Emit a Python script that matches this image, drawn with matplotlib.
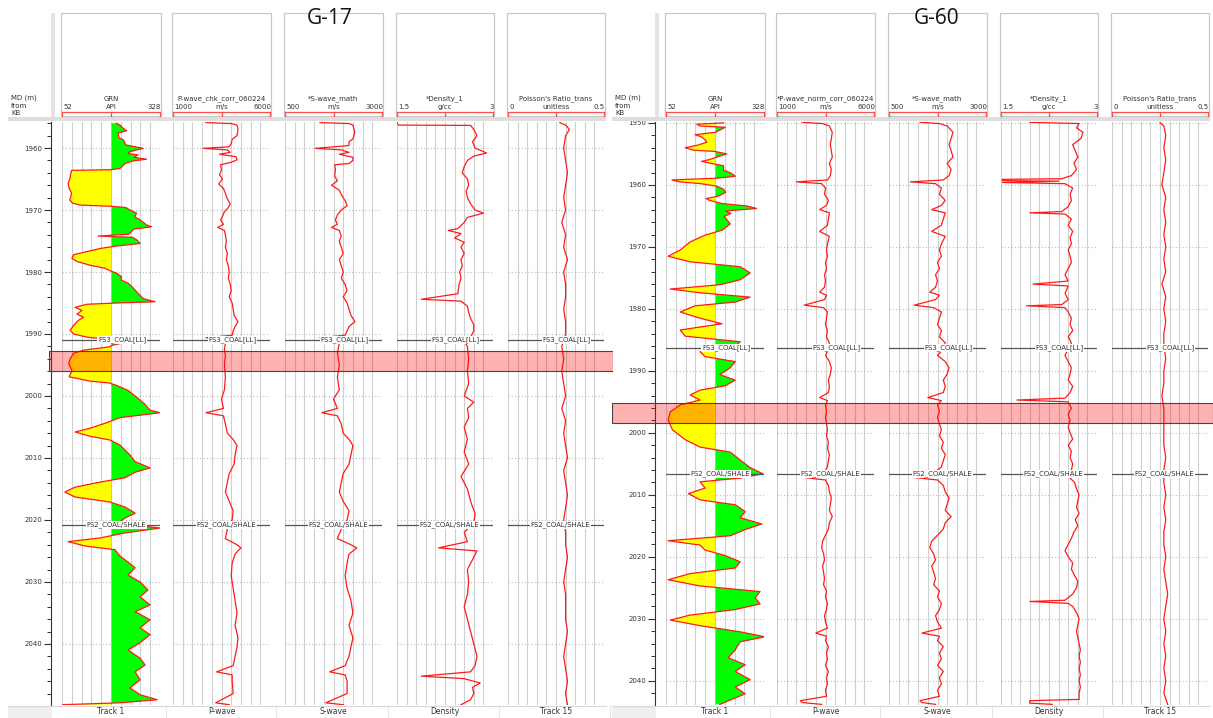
"""
Two-well log comparison, G-17 and G-60.
GR with shale/sand fill, Vp, Vs, density and Poisson's ratio, formation tops and a highlighted interval.
"""

import matplotlib
matplotlib.use('Agg')
import matplotlib.pyplot as plt
from matplotlib.patches import Rectangle
import numpy as np

W, H = 1213, 718

# ---------------- data (depth m, value) ----------------
G17_GR = [(1956.0, 205), (1956.3, 215), (1956.8, 224), (1957.2, 234), (1957.6, 210), (1958.3, 212),
          (1958.7, 225), (1959.5, 232), (1960.05, 280), (1960.6, 243), (1960.9, 238), (1961.1, 266),
          (1961.5, 255), (1961.8, 290), (1962.1, 250), (1962.5, 230), (1963.3, 215), (1963.5, 190),
          (1963.6, 79), (1964.3, 76), (1965.0, 74), (1965.7, 69), (1966.5, 72), (1967.3, 79),
          (1968.0, 76), (1968.4, 74), (1968.9, 82), (1969.2, 103), (1969.4, 190), (1969.6, 232),
          (1970.0, 243), (1970.5, 262), (1971.1, 257), (1971.6, 272), (1972.4, 290), (1972.7, 304),
          (1973.1, 253), (1973.5, 248), (1973.9, 240), (1974.2, 154), (1974.4, 250), (1974.8, 262),
          (1975.4, 272), (1975.8, 206), (1976.2, 160), (1976.7, 122), (1977.2, 85), (1977.8, 80),
          (1978.3, 94), (1978.9, 131), (1979.4, 173), (1979.8, 188), (1980.2, 206), (1980.8, 220),
          (1981.3, 218), (1981.8, 238), (1982.6, 253), (1983.5, 267), (1984.3, 281), (1984.8, 314),
          (1985.0, 206), (1985.2, 122), (1985.7, 89), (1986.2, 108), (1986.8, 94), (1987.3, 113),
          (1987.8, 98), (1988.6, 85), (1989.4, 75), (1990.0, 85), (1990.5, 122), (1990.7, 154),
          (1991.0, 165), (1991.3, 206), (1991.5, 220), (1991.8, 195), (1992.1, 183), (1992.6, 113),
          (1993.1, 85), (1994.0, 75), (1994.8, 71), (1995.9, 80), (1996.9, 72), (1997.6, 131),
          (1997.9, 185), (1998.3, 206), (1999.1, 238), (2000.2, 262), (2001.3, 285), (2002.3, 300),
          (2002.7, 328), (2003.5, 215), (2004.4, 173), (2005.2, 131), (2005.8, 89), (2006.5, 131),
          (2007.1, 187), (2007.9, 215), (2008.7, 229), (2009.5, 243), (2010.6, 258), (2011.6, 300),
          (2012.3, 258), (2013.2, 229), (2013.9, 159), (2014.7, 89), (2015.5, 60), (2016.3, 89),
          (2017.1, 187), (2017.9, 229), (2018.9, 258), (2019.7, 229), (2020.5, 210), (2021.3, 328),
          (2022.1, 229), (2022.9, 159), (2023.5, 69), (2024.2, 117), (2024.8, 201), (2025.8, 215),
          (2026.8, 238), (2027.7, 258), (2028.9, 238), (2030.0, 272), (2031.3, 294), (2032.4, 272),
          (2033.7, 300), (2034.8, 258), (2036.1, 300), (2037.4, 272), (2038.5, 300), (2039.8, 272),
          (2041.0, 238), (2042.3, 272), (2043.4, 286), (2044.5, 258), (2045.8, 272), (2047.1, 243),
          (2048.2, 272), (2049.0, 320), (2049.5, 215), (2049.8, 52)]

G17_VP = [(1955.9, 2700), (1956.05, 4000), (1956.3, 4300), (1957.0, 4350), (1958.0, 4300), (1958.6, 4050),
          (1959.3, 4000), (1959.8, 3900), (1960.05, 2550), (1960.3, 3800), (1960.7, 3950), (1961.0, 3400),
          (1961.4, 4250), (1961.9, 4300), (1962.3, 4000), (1962.7, 3450), (1963.5, 3500), (1964.3, 3400),
          (1965.0, 3550), (1965.8, 3350), (1966.5, 3600), (1967.3, 3700), (1968.2, 3800), (1969.0, 3950),
          (1969.6, 3850), (1970.3, 3650), (1971.0, 3550), (1971.6, 3450), (1972.3, 3600), (1972.8, 3300),
          (1973.3, 3650), (1974.0, 3700), (1975.0, 3750), (1976.0, 3700), (1977.0, 3800), (1978.0, 3750),
          (1979.0, 3850), (1980.0, 3900), (1981.0, 3850), (1982.0, 3950), (1983.0, 4000), (1984.0, 3900),
          (1985.0, 4050), (1986.0, 4100), (1987.0, 4150), (1988.0, 4350), (1988.8, 4200), (1989.5, 4100),
          (1990.2, 4050), (1990.6, 2700), (1990.9, 3800), (1991.5, 3700), (1992.5, 3650), (1993.5, 3700),
          (1995.0, 3650), (1997.0, 3700), (1999.0, 3650), (2000.5, 3500), (2002.0, 3600), (2002.7, 2700),
          (2003.2, 3600), (2004.5, 3700), (2006.0, 3800), (2007.0, 4100), (2008.0, 4300), (2009.5, 4200),
          (2011.0, 4150), (2012.5, 3900), (2014.0, 3800), (2015.5, 3700), (2017.0, 3900), (2018.5, 4100),
          (2020.0, 4050), (2021.5, 3800), (2023.0, 3700), (2024.0, 4300), (2024.5, 4500), (2025.5, 4200),
          (2027.0, 4050), (2029.0, 4000), (2031.0, 4100), (2033.0, 4200), (2035.0, 4300), (2037.0, 4200),
          (2039.0, 4350), (2040.5, 4300), (2042.0, 4200), (2043.5, 4100), (2044.5, 3250), (2045.0, 4050),
          (2046.0, 4050), (2048.0, 4100), (2049.5, 3200), (2049.8, 3900)]

G17_VS = [(1955.9, 1400), (1956.05, 2150), (1956.3, 2250), (1957.5, 2300), (1958.5, 2250), (1959.0, 2150),
          (1959.6, 2150), (1960.05, 1280), (1960.3, 1950), (1960.7, 2150), (1961.0, 1900), (1961.5, 2250),
          (1962.0, 2250), (1962.5, 2150), (1962.7, 1780), (1963.5, 1800), (1964.5, 1780), (1965.3, 1850),
          (1966.0, 1700), (1966.8, 1900), (1967.5, 1950), (1968.5, 2050), (1969.3, 2100), (1970.0, 1950),
          (1970.8, 1850), (1971.6, 1800), (1972.3, 1850), (1972.8, 1700), (1973.3, 1900), (1974.2, 1950),
          (1975.0, 1900), (1976.0, 1950), (1977.0, 2000), (1978.0, 1900), (1979.0, 1950), (1980.0, 2000),
          (1981.0, 1950), (1982.0, 2050), (1983.0, 2100), (1984.0, 2000), (1985.0, 2100), (1986.0, 2150),
          (1987.0, 2200), (1988.0, 2300), (1988.8, 2150), (1989.5, 2100), (1990.2, 2050), (1990.6, 1400),
          (1990.9, 1950), (1991.5, 1900), (1993.0, 1850), (1995.0, 1900), (1997.0, 1850), (1999.0, 1900),
          (2000.5, 1750), (2002.0, 1850), (2002.7, 1450), (2003.2, 1850), (2004.5, 1950), (2006.0, 2000),
          (2007.0, 2150), (2008.0, 2250), (2009.5, 2200), (2011.0, 2150), (2012.5, 2000), (2014.0, 1950),
          (2015.5, 1900), (2017.0, 2000), (2018.5, 2150), (2020.0, 2100), (2021.5, 1950), (2023.0, 1850),
          (2024.0, 2200), (2024.5, 2350), (2025.5, 2150), (2027.0, 2100), (2029.0, 2050), (2031.0, 2100),
          (2033.0, 2200), (2035.0, 2250), (2037.0, 2150), (2039.0, 2250), (2040.5, 2200), (2042.0, 2150),
          (2043.5, 2050), (2044.5, 1650), (2045.0, 2050), (2046.0, 2100), (2048.0, 2100), (2049.5, 1550),
          (2049.8, 2000)]

G17_RHOB = [(1955.9, 1.50), (1956.3, 1.52), (1956.35, 2.65), (1957.0, 2.70), (1958.0, 2.75), (1959.0, 2.68),
            (1960.0, 2.72), (1960.8, 2.90), (1961.3, 2.70), (1962.0, 2.60), (1963.0, 2.55), (1964.0, 2.52),
            (1965.0, 2.60), (1966.0, 2.62), (1967.0, 2.58), (1968.0, 2.60), (1969.0, 2.65), (1970.0, 2.72),
            (1970.5, 2.85), (1971.2, 2.60), (1972.0, 2.55), (1973.0, 2.45), (1973.3, 2.30), (1973.8, 2.50),
            (1974.5, 2.40), (1975.2, 2.55), (1976.0, 2.50), (1977.0, 2.55), (1978.0, 2.50), (1979.0, 2.52),
            (1980.0, 2.48), (1981.0, 2.50), (1982.0, 2.47), (1983.5, 2.45), (1984.4, 1.88), (1984.7, 2.50),
            (1985.5, 2.60), (1986.5, 2.62), (1987.5, 2.65), (1988.5, 2.70), (1989.5, 2.70), (1990.5, 2.65),
            (1990.8, 2.15), (1991.2, 2.55), (1992.0, 2.60), (1994.0, 2.62), (1996.0, 2.60), (1998.0, 2.62),
            (2000.0, 2.55), (2001.0, 2.70), (2002.0, 2.60), (2003.5, 2.62), (2005.0, 2.55), (2007.0, 2.60),
            (2009.0, 2.55), (2011.0, 2.62), (2013.0, 2.50), (2015.0, 2.60), (2017.0, 2.65), (2019.0, 2.72),
            (2020.5, 2.70), (2022.0, 2.55), (2023.5, 2.60), (2024.5, 2.15), (2025.0, 2.75), (2026.0, 2.70),
            (2028.0, 2.60), (2030.0, 2.62), (2032.0, 2.60), (2034.0, 2.55), (2036.0, 2.60), (2038.0, 2.65),
            (2040.0, 2.70), (2042.0, 2.75), (2043.5, 2.72), (2044.5, 2.65), (2045.2, 1.88), (2045.6, 2.55),
            (2046.3, 2.80), (2047.0, 2.68), (2048.0, 2.70), (2049.0, 2.65), (2049.8, 2.50)]

G17_PR = [(1955.9, 0.27), (1956.3, 0.30), (1957.0, 0.32), (1958.0, 0.30), (1960.0, 0.29), (1962.0, 0.30),
          (1964.0, 0.31), (1966.0, 0.30), (1968.0, 0.29), (1970.0, 0.30), (1972.0, 0.28), (1974.0, 0.30),
          (1976.0, 0.29), (1978.0, 0.31), (1980.0, 0.29), (1982.0, 0.30), (1984.0, 0.30), (1986.0, 0.29),
          (1988.0, 0.30), (1990.0, 0.30), (1992.0, 0.28), (1994.0, 0.29), (1996.0, 0.28), (1998.0, 0.29),
          (2000.0, 0.30), (2002.0, 0.28), (2004.0, 0.30), (2006.0, 0.29), (2008.0, 0.30), (2010.0, 0.31),
          (2012.0, 0.29), (2014.0, 0.30), (2016.0, 0.31), (2018.0, 0.30), (2020.0, 0.29), (2022.0, 0.30),
          (2024.0, 0.30), (2026.0, 0.31), (2028.0, 0.30), (2030.0, 0.29), (2032.0, 0.30), (2034.0, 0.30),
          (2036.0, 0.30), (2038.0, 0.31), (2040.0, 0.30), (2042.0, 0.29), (2044.0, 0.30), (2046.0, 0.31),
          (2048.0, 0.30), (2049.8, 0.31)]

G60_GR = [(1950.0, 214), (1950.2, 139), (1950.5, 148), (1950.7, 219), (1951.1, 205), (1951.5, 192),
          (1951.9, 134), (1952.2, 150), (1952.6, 160), (1953.1, 167), (1953.6, 140), (1954.0, 106),
          (1954.4, 130), (1954.6, 190), (1955.0, 223), (1955.4, 200), (1955.9, 175), (1956.2, 152),
          (1956.6, 185), (1956.9, 214), (1957.6, 214), (1958.1, 235), (1958.6, 247), (1958.9, 200),
          (1959.2, 69), (1959.5, 90), (1959.8, 150), (1960.2, 195), (1960.7, 214), (1961.2, 220),
          (1961.8, 200), (1962.2, 165), (1962.5, 175), (1963.0, 210), (1963.4, 280), (1963.8, 307),
          (1964.2, 220), (1964.6, 235), (1965.1, 215), (1965.3, 219), (1966.3, 233), (1967.3, 210),
          (1968.1, 162), (1969.2, 120), (1970.5, 92), (1971.5, 58), (1972.4, 120), (1973.2, 261),
          (1974.2, 289), (1975.3, 261), (1976.1, 204), (1976.8, 64), (1977.4, 148), (1978.1, 289),
          (1978.9, 247), (1979.5, 134), (1980.5, 92), (1981.5, 148), (1982.4, 210), (1983.4, 92),
          (1984.4, 106), (1985.3, 261), (1986.1, 247), (1986.9, 148), (1987.7, 162), (1988.5, 247),
          (1989.5, 233), (1990.6, 204), (1991.5, 247), (1992.4, 219), (1993.1, 148), (1993.9, 120),
          (1994.7, 148), (1995.5, 92), (1996.6, 64), (1997.9, 58), (1999.5, 70), (2001.1, 106),
          (2002.3, 148), (2003.1, 233), (2004.4, 261), (2005.6, 289), (2006.6, 325), (2007.3, 261),
          (2007.9, 148), (2008.9, 162), (2009.8, 115), (2010.8, 148), (2011.6, 247), (2012.7, 275),
          (2013.7, 261), (2014.7, 322), (2015.6, 275), (2016.6, 233), (2017.4, 58), (2018.1, 148),
          (2018.9, 162), (2019.8, 219), (2020.8, 261), (2021.8, 247), (2022.7, 120), (2023.7, 58),
          (2024.7, 148), (2025.6, 317), (2026.6, 303), (2027.6, 317), (2028.5, 247), (2029.4, 120),
          (2030.2, 64), (2031.1, 148), (2032.1, 261), (2032.9, 331), (2033.7, 261), (2035.0, 247),
          (2036.3, 227), (2037.4, 275), (2038.5, 247), (2039.8, 289), (2041.0, 247), (2042.1, 275),
          (2043.1, 233), (2043.8, 204)]

G60_VP = [(1949.9, 2300), (1950.1, 3350), (1950.5, 3700), (1951.5, 3850), (1952.5, 3800), (1953.5, 3750),
          (1954.5, 3800), (1955.5, 3850), (1956.5, 3700), (1957.5, 3800), (1958.5, 3750), (1959.2, 3600),
          (1959.5, 2000), (1959.8, 3300), (1960.5, 3500), (1961.5, 3450), (1962.5, 3650), (1963.3, 3550),
          (1964.0, 3200), (1964.5, 3700), (1965.5, 3650), (1966.5, 3600), (1967.5, 3200), (1968.3, 3700),
          (1969.5, 3600), (1970.5, 3550), (1971.5, 3600), (1972.5, 3500), (1973.5, 3550), (1974.5, 3450),
          (1975.5, 3500), (1976.5, 3450), (1977.3, 3200), (1977.8, 3550), (1978.5, 3450), (1979.4, 2400),
          (1979.8, 3400), (1980.5, 3600), (1981.5, 3550), (1982.5, 3500), (1983.5, 3600), (1984.5, 3550),
          (1985.5, 3700), (1986.5, 3650), (1987.5, 3500), (1988.5, 3700), (1989.5, 3800), (1990.5, 3750),
          (1991.5, 3650), (1992.5, 3700), (1993.5, 3650), (1994.3, 3200), (1994.8, 3600), (1995.5, 3500),
          (1996.5, 3550), (1997.5, 3500), (1998.5, 3550), (1999.5, 3600), (2000.5, 3550), (2001.5, 3650),
          (2002.5, 3600), (2003.5, 3700), (2004.5, 3650), (2005.5, 3600), (2006.5, 3400), (2007.2, 2400),
          (2007.6, 3500), (2008.5, 3650), (2009.5, 3700), (2010.5, 3800), (2011.5, 3750), (2012.5, 3700),
          (2013.5, 3850), (2014.5, 3700), (2015.5, 3650), (2016.5, 3500), (2017.5, 3350), (2018.5, 3300),
          (2019.5, 3400), (2020.5, 3450), (2021.5, 3350), (2022.5, 3400), (2023.5, 3450), (2024.5, 3400),
          (2025.5, 3550), (2026.5, 3500), (2027.5, 3600), (2028.5, 3550), (2029.5, 3450), (2030.5, 3500),
          (2031.5, 3600), (2032.3, 3000), (2032.8, 3550), (2033.5, 3500), (2034.5, 3650), (2035.5, 3550),
          (2036.5, 3600), (2037.5, 3500), (2038.5, 3650), (2039.5, 3550), (2040.5, 3600), (2041.5, 3500),
          (2042.5, 3550), (2043.2, 2200), (2043.5, 2300), (2043.8, 3300)]

G60_VS = [(1949.9, 1300), (1950.1, 1800), (1950.5, 2000), (1951.5, 2150), (1952.5, 2100), (1953.5, 2050),
          (1954.5, 2100), (1955.5, 2150), (1956.5, 2000), (1957.5, 2100), (1958.5, 2050), (1959.2, 1900),
          (1959.5, 1050), (1959.8, 1700), (1960.5, 1850), (1961.5, 1800), (1962.5, 1950), (1963.3, 1850),
          (1964.0, 1600), (1964.5, 1950), (1965.5, 1900), (1966.5, 1850), (1967.5, 1600), (1968.3, 1950),
          (1969.5, 1850), (1970.5, 1800), (1971.5, 1850), (1972.5, 1750), (1973.5, 1800), (1974.5, 1700),
          (1975.5, 1750), (1976.5, 1700), (1977.3, 1550), (1977.8, 1800), (1978.5, 1700), (1979.4, 1150),
          (1979.8, 1650), (1980.5, 1850), (1981.5, 1800), (1982.5, 1750), (1983.5, 1850), (1984.5, 1800),
          (1985.5, 1950), (1986.5, 1900), (1987.5, 1750), (1988.5, 1950), (1989.5, 2050), (1990.5, 2000),
          (1991.5, 1900), (1992.5, 1950), (1993.5, 1900), (1994.3, 1500), (1994.8, 1850), (1995.5, 1750),
          (1996.5, 1800), (1997.5, 1750), (1998.5, 1800), (1999.5, 1850), (2000.5, 1800), (2001.5, 1900),
          (2002.5, 1850), (2003.5, 1950), (2004.5, 1900), (2005.5, 1850), (2006.5, 1650), (2007.2, 1150),
          (2007.6, 1750), (2008.5, 1900), (2009.5, 1950), (2010.5, 2050), (2011.5, 2000), (2012.5, 1950),
          (2013.5, 2100), (2014.5, 1950), (2015.5, 1900), (2016.5, 1750), (2017.5, 1600), (2018.5, 1550),
          (2019.5, 1650), (2020.5, 1700), (2021.5, 1600), (2022.5, 1650), (2023.5, 1700), (2024.5, 1650),
          (2025.5, 1800), (2026.5, 1750), (2027.5, 1850), (2028.5, 1800), (2029.5, 1700), (2030.5, 1750),
          (2031.5, 1850), (2032.3, 1350), (2032.8, 1800), (2033.5, 1750), (2034.5, 1900), (2035.5, 1800),
          (2036.5, 1850), (2037.5, 1750), (2038.5, 1900), (2039.5, 1800), (2040.5, 1850), (2041.5, 1750),
          (2042.5, 1800), (2043.2, 1300), (2043.5, 1350), (2043.8, 1700)]

G60_RHOB = [(1949.9, 1.95), (1950.1, 2.72), (1950.8, 2.68), (1951.5, 2.78), (1952.5, 2.75), (1953.5, 2.62),
            (1954.5, 2.66), (1955.5, 2.70), (1956.5, 2.64), (1957.5, 2.68), (1958.5, 2.60), (1959.0, 2.45),
            (1959.1, 1.52), (1959.3, 1.52), (1959.4, 2.40), (1959.6, 1.52), (1959.8, 2.50), (1960.5, 2.62),
            (1961.5, 2.58), (1962.5, 2.60), (1963.5, 2.55), (1964.3, 2.45), (1964.5, 1.95), (1964.7, 2.50),
            (1965.5, 2.60), (1966.5, 2.55), (1967.5, 2.62), (1968.5, 2.58), (1969.5, 2.60), (1970.5, 2.55),
            (1971.5, 2.58), (1972.5, 2.60), (1973.5, 2.55), (1974.5, 2.50), (1975.5, 2.55), (1976.0, 2.00),
            (1976.3, 2.55), (1977.5, 2.50), (1978.5, 2.55), (1979.3, 2.45), (1979.5, 1.90), (1979.8, 2.50),
            (1980.5, 2.55), (1981.5, 2.60), (1982.5, 2.58), (1983.5, 2.62), (1984.5, 2.55), (1985.5, 2.60),
            (1986.5, 2.55), (1987.5, 2.50), (1988.5, 2.55), (1989.5, 2.60), (1990.5, 2.58), (1991.5, 2.55),
            (1992.5, 2.62), (1993.5, 2.58), (1994.4, 2.50), (1994.7, 1.75), (1995.0, 2.55), (1996.0, 2.60),
            (1997.0, 2.55), (1998.0, 2.58), (1999.0, 2.55), (2000.0, 2.58), (2001.0, 2.62), (2002.0, 2.55),
            (2003.0, 2.60), (2004.0, 2.58), (2005.0, 2.62), (2006.0, 2.60), (2007.0, 2.55), (2008.0, 2.65),
            (2009.0, 2.68), (2010.0, 2.72), (2011.0, 2.70), (2012.0, 2.68), (2013.0, 2.72), (2014.0, 2.66),
            (2015.0, 2.70), (2016.0, 2.64), (2017.0, 2.60), (2018.0, 2.55), (2019.0, 2.50), (2020.0, 2.55),
            (2021.0, 2.62), (2022.0, 2.60), (2023.0, 2.65), (2024.0, 2.70), (2025.0, 2.68), (2026.0, 2.62),
            (2027.0, 2.50), (2027.2, 1.95), (2027.5, 2.55), (2028.0, 2.62), (2029.0, 2.68), (2030.0, 2.72),
            (2031.0, 2.70), (2032.0, 2.68), (2033.0, 2.70), (2034.0, 2.72), (2035.0, 2.74), (2036.0, 2.72),
            (2037.0, 2.74), (2038.0, 2.72), (2039.0, 2.74), (2040.0, 2.72), (2041.0, 2.74), (2042.0, 2.72),
            (2043.0, 2.72), (2043.2, 1.95), (2043.6, 1.95), (2043.8, 2.30)]

G60_PR = [(1949.9, 0.25), (1950.5, 0.27), (1952.0, 0.28), (1954.0, 0.27), (1956.0, 0.28), (1958.0, 0.27),
          (1960.0, 0.26), (1962.0, 0.28), (1964.0, 0.27), (1966.0, 0.28), (1968.0, 0.27), (1970.0, 0.28),
          (1972.0, 0.27), (1974.0, 0.28), (1976.0, 0.26), (1978.0, 0.28), (1980.0, 0.27), (1982.0, 0.28),
          (1984.0, 0.27), (1986.0, 0.27), (1988.0, 0.28), (1990.0, 0.27), (1992.0, 0.27), (1994.0, 0.26),
          (1996.0, 0.27), (1998.0, 0.27), (2000.0, 0.27), (2002.0, 0.27), (2004.0, 0.28), (2006.0, 0.27),
          (2008.0, 0.27), (2010.0, 0.28), (2012.0, 0.27), (2014.0, 0.28), (2016.0, 0.27), (2018.0, 0.27),
          (2020.0, 0.28), (2022.0, 0.27), (2024.0, 0.28), (2026.0, 0.29), (2028.0, 0.28), (2030.0, 0.27),
          (2032.0, 0.28), (2034.0, 0.27), (2036.0, 0.28), (2038.0, 0.27), (2040.0, 0.28), (2042.0, 0.27),
          (2043.8, 0.29)]

# formation tops and highlighted interval
G17_TOPS = [("FS3_COAL[LL]", 1990.9), ("FS2_COAL/SHALE", 2020.8)]
G60_TOPS = [("FS3_COAL[LL]", 1986.3), ("FS2_COAL/SHALE", 2006.6)]
G17_BAND = (1992.7, 1995.9)
G60_BAND = (1995.2, 1998.4)

# visible depth window of each well
G17_WINDOW = (1955.8, 2049.85)
G60_WINDOW = (1949.85, 2043.9)

G17_NAMES = ["GRN", "P-wave_chk_corr_060224", "*S-wave_math", "*Density_1", "Poisson's Ratio_trans"]
G60_NAMES = ["GRN", "*P-wave_norm_corr_060224", "*S-wave_math", "*Density_1", "Poisson's Ratio_trans"]
UNITS = ["API", "m/s", "m/s", "g/cc", "unitless"]
SCALE_MIN = [52, 1000, 500, 1.5, 0]
SCALE_MAX = [328, 6000, 3000, 3, 0.5]
SCALE_TXT = [("52", "328"), ("1000", "6000"), ("500", "3000"), ("1.5", "3"), ("0", "0.5")]
FOOTER = ["Track 1", "P-wave", "S-wave", "Density", "Track 15"]
GR_CUTOFF = 190

# ---------------- layout (pixels) ----------------
TRACK_X = [(62, 160), (173, 270), (285, 382), (397, 493), (508, 604)]
TRACK_Y = (122, 705)
DEPTH_AXIS_X = 51

CURVE_RED = '#ff1a1a'
GRID = '#cfcfcf'
SMALL = 5.0

fig = plt.figure(figsize=(W / 100, H / 100), dpi=100, facecolor='white')


def box(x0, y0, x1, y1):
    return [x0 / W, 1 - y1 / H, (x1 - x0) / W, (y1 - y0) / H]


def track_axes(x0, x1, window, vmin, vmax):
    ax = fig.add_axes(box(x0, TRACK_Y[0], x1, TRACK_Y[1]))
    ax.set_xlim(vmin, vmax)
    ax.set_ylim(window[1], window[0])
    ax.axis('off')
    for v in np.linspace(vmin, vmax, 11):
        ax.axvline(v, color=GRID, lw=0.8, zorder=0)
    for d in np.arange(np.ceil(window[0] / 10) * 10, window[1], 10):
        ax.axhline(d, color='#bdbdbd', lw=0.8, ls=(0, (1, 2)), zorder=0)
    return ax


def draw_well(ox, window, gr, vp, vs, rhob, pr, tops, band, band_x):
    curves = [gr, vp, vs, rhob, pr]
    for i, (x0, x1) in enumerate(TRACK_X):
        ax = track_axes(x0 + ox, x1 + ox, window, SCALE_MIN[i], SCALE_MAX[i])
        d = np.array([p[0] for p in curves[i]])
        v = np.array([p[1] for p in curves[i]])
        if i == 0:
            ax.fill_betweenx(d, v, GR_CUTOFF, where=v <= GR_CUTOFF, interpolate=True,
                             color='#ffff00', lw=0, zorder=1)
            ax.fill_betweenx(d, v, GR_CUTOFF, where=v >= GR_CUTOFF, interpolate=True,
                             color='#00ff00', lw=0, zorder=1)
            ax.axvline(GR_CUTOFF, color='#9adf9a', lw=0.6, zorder=1)
        ax.plot(v, d, color=CURVE_RED, lw=0.9, zorder=2)
        mid = 0.5 * (SCALE_MIN[i] + SCALE_MAX[i])
        span = SCALE_MAX[i] - SCALE_MIN[i]
        for name, depth in tops:
            ax.axhline(depth, color='#555555', lw=0.9, zorder=3)
            ax.text(mid + 0.36 * span, depth, name, ha='right', va='center', fontsize=SMALL,
                    color='#333333', zorder=4,
                    bbox=dict(boxstyle='square,pad=0.1', fc='white', ec='none'))

    # depth axis
    dax = fig.add_axes(box(DEPTH_AXIS_X + ox, TRACK_Y[0], DEPTH_AXIS_X + ox + 1, TRACK_Y[1]))
    dax.set_ylim(window[1], window[0])
    dax.set_xticks([])
    for s in ['right', 'top', 'bottom']:
        dax.spines[s].set_visible(False)
    dax.spines['left'].set_color('#333333')
    dax.spines['left'].set_linewidth(0.8)
    dax.set_yticks(np.arange(np.ceil(window[0] / 10) * 10, window[1], 10))
    dax.set_yticks(np.arange(np.ceil(window[0] / 2) * 2, window[1], 2), minor=True)
    dax.yaxis.set_major_formatter(matplotlib.ticker.FormatStrFormatter('%d'))
    dax.tick_params(axis='y', which='major', length=5, width=0.8, labelsize=SMALL, pad=1.5,
                    colors='#333333')
    dax.tick_params(axis='y', which='minor', length=3, width=0.7, colors='#333333')
    dax.patch.set_alpha(0)

    # highlighted interval across the whole panel
    bax = fig.add_axes(box(band_x[0], TRACK_Y[0], band_x[1], TRACK_Y[1]))
    bax.set_ylim(window[1], window[0])
    bax.set_xlim(0, 1)
    bax.axis('off')
    bax.add_patch(Rectangle((0, band[0]), 1, band[1] - band[0], facecolor=(1, 0, 0, 0.3),
                            edgecolor='#444444', lw=0.8))


draw_well(0, G17_WINDOW, G17_GR, G17_VP, G17_VS, G17_RHOB, G17_PR, G17_TOPS, G17_BAND, (49, 613))
draw_well(604, G60_WINDOW, G60_GR, G60_VP, G60_VS, G60_RHOB, G60_PR, G60_TOPS, G60_BAND, (612, W))

# ---------------- header / footer overlay ----------------
ov = fig.add_axes([0, 0, 1, 1])
ov.set_xlim(0, W)
ov.set_ylim(H, 0)
ov.axis('off')
ov.patch.set_alpha(0)

for ox, title, names in [(0, "G-17", G17_NAMES), (604, "G-60", G60_NAMES)]:
    ov.add_patch(Rectangle((ox, 0), 606, TRACK_Y[0] - 1, facecolor='white', edgecolor='none', zorder=0))
    ov.add_patch(Rectangle((ox, TRACK_Y[1] + 0.5), 606, H, facecolor='white', edgecolor='none', zorder=0))
    # header separator
    ov.add_patch(Rectangle((ox + 8, 117), 598, 4, facecolor='#dedede', edgecolor='none', zorder=1))
    # depth column header
    ov.add_patch(Rectangle((ox + 51, 13), 4, 104, facecolor='#e4e4e4', edgecolor='none', zorder=1))
    for k, line in enumerate(["MD (m)", "from", "KB"]):
        ov.text(ox + 11, 98 + 7.6 * k, line, fontsize=SMALL, color='#333333', va='center', ha='left')
    for i, (x0, x1) in enumerate(TRACK_X):
        a, b = x0 + ox, x1 + ox
        c = 0.5 * (a + b)
        ov.add_patch(Rectangle((a - 1, 13), b - a + 2, 103, facecolor='white', edgecolor='#c8c8c8',
                               lw=0.9, zorder=1))
        ov.text(c, 99, names[i], fontsize=SMALL, ha='center', va='center', color='#333333', zorder=2)
        ov.text(c, 107, UNITS[i], fontsize=SMALL, ha='center', va='center', color='#333333', zorder=2)
        ov.text(a + 1, 107, SCALE_TXT[i][0], fontsize=SMALL, ha='left', va='center', color='#333333',
                zorder=2)
        ov.text(b + 1, 107, SCALE_TXT[i][1], fontsize=SMALL, ha='right', va='center', color='#333333',
                zorder=2)
        ov.plot([a, b], [112, 112], color='#ff4d4d', lw=0.9, zorder=2)
        for xt in (a, c, b):
            ov.plot([xt, xt], [112, 116], color='#ff4d4d', lw=0.9, zorder=2)
        # footer labels
        ov.text(c, 712, FOOTER[i], fontsize=5.5, ha='center', va='center', color='#333333', zorder=2)
        ov.plot([b + 6, b + 6], [706, 718], color='#e6e6e6', lw=0.8, zorder=1)
    ov.add_patch(Rectangle((ox + 8, 706), 44, 12, facecolor='#efefef', edgecolor='none', zorder=1))
    ov.plot([ox + 8, ox + 606], [705.5, 705.5], color='#d8d8d8', lw=0.8, zorder=1)
    ov.text(ox + (330 if ox == 0 else 333), 18, title, fontsize=15, ha='center', va='center',
            color='#111111', family='Open Sans', zorder=3)

fig.savefig('out.png', dpi=100, facecolor='white')
